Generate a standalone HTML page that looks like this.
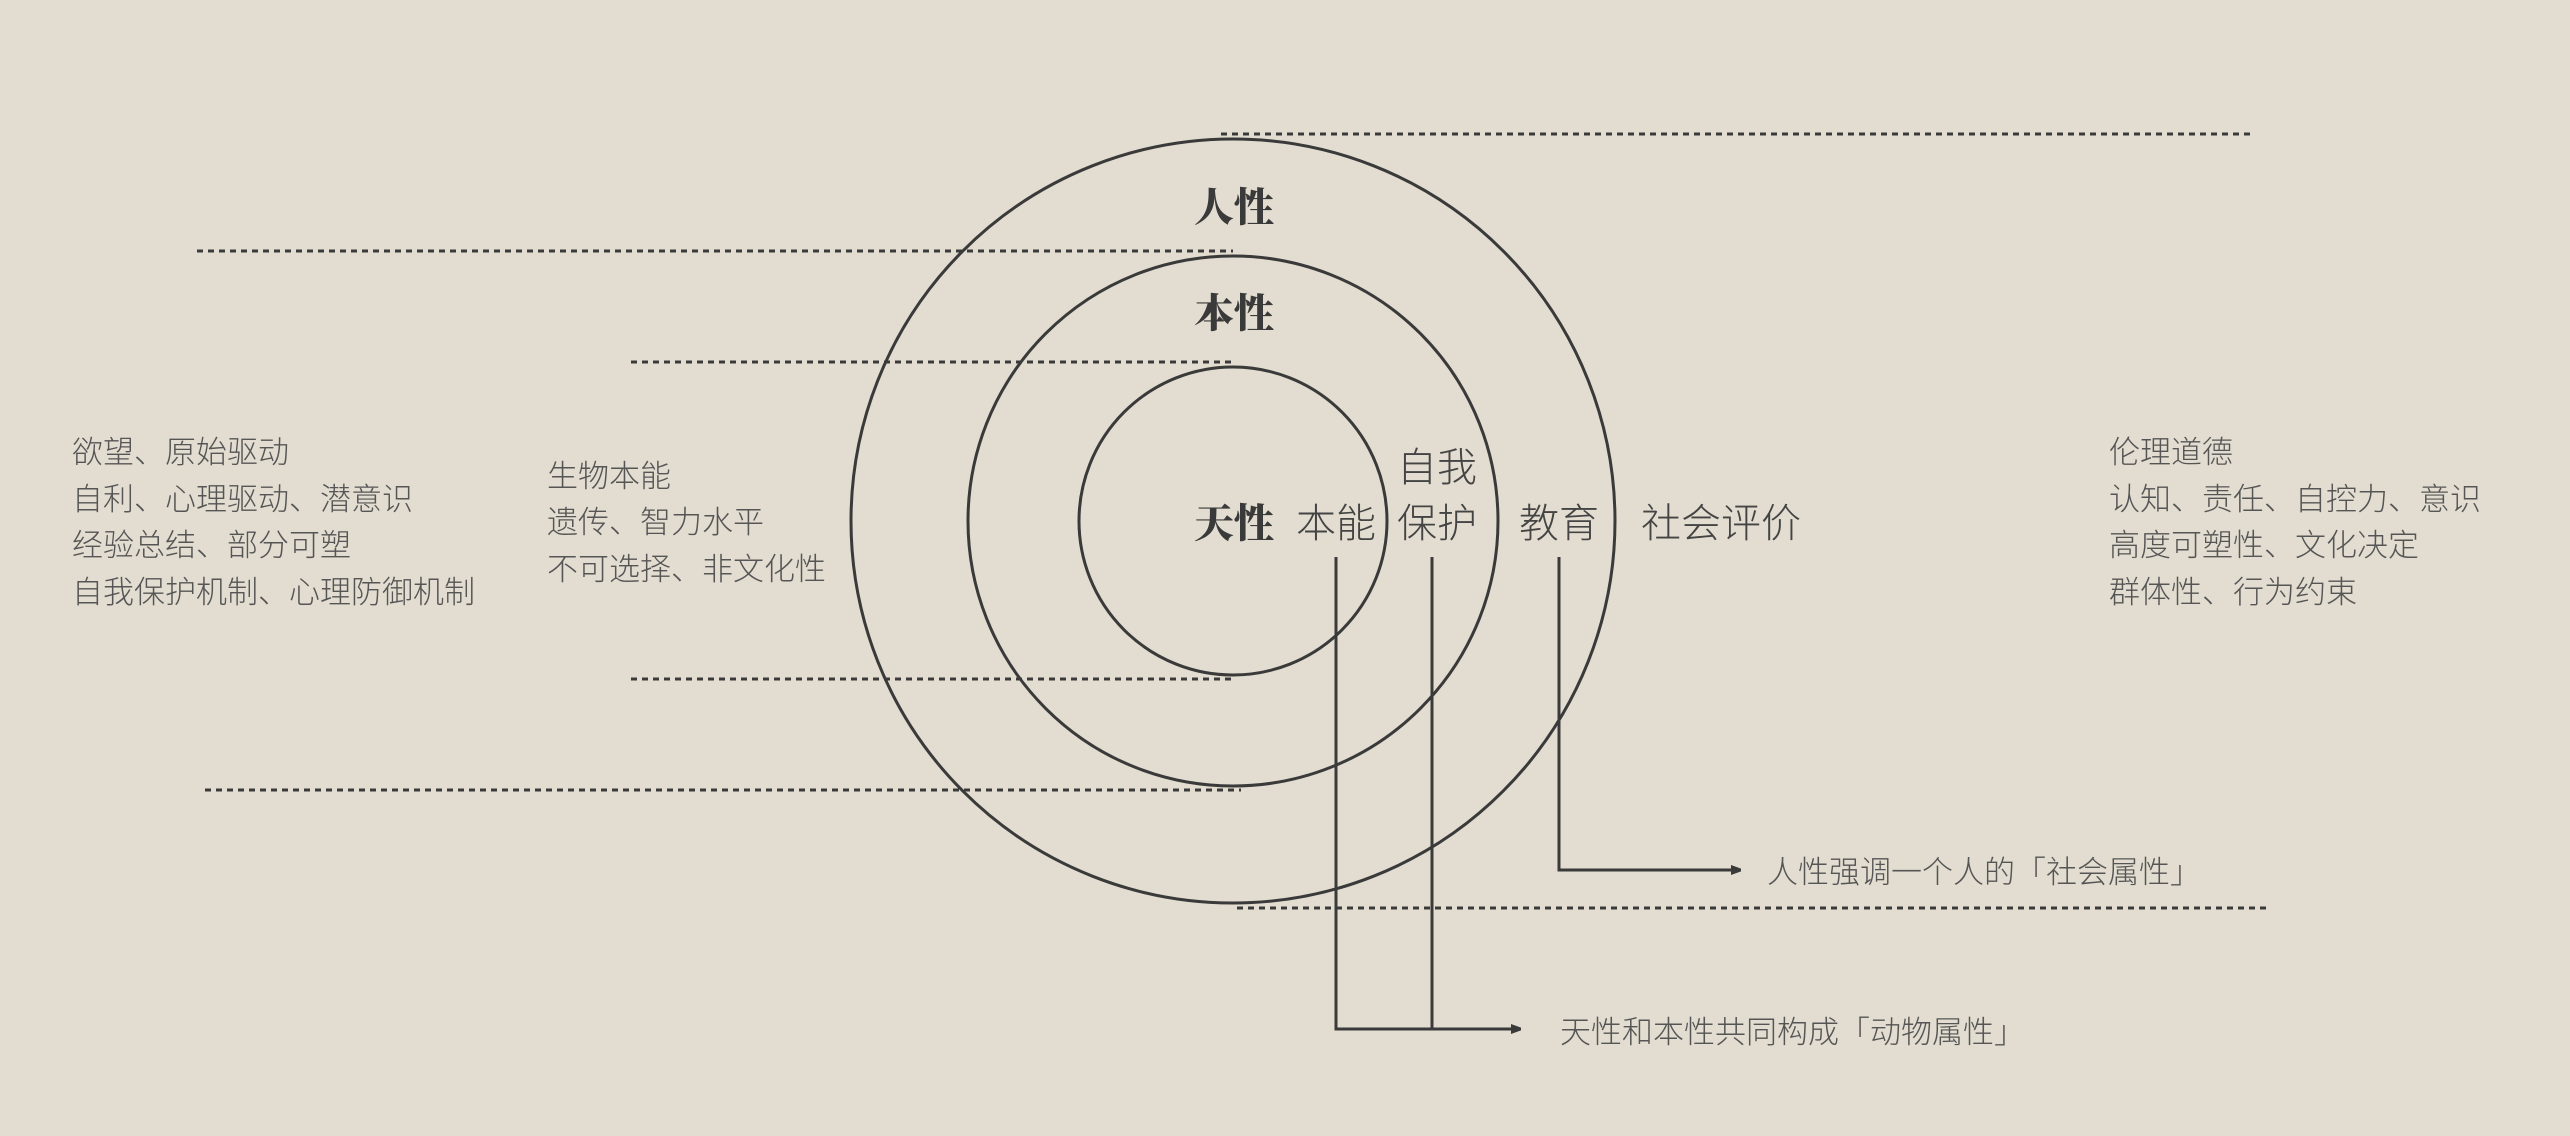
<!DOCTYPE html>
<html><head><meta charset="utf-8"><style>
html,body{margin:0;padding:0;background:#e2ddd0;}
svg{display:block}
.t{font-family:"Liberation Sans","Noto Sans CJK SC",sans-serif;fill:#555;font-size:31px;font-weight:300}
.b{font-family:"Liberation Serif","Noto Serif CJK SC",serif;fill:#3a3a3a;font-size:40px;font-weight:900}
.m{font-family:"Liberation Sans","Noto Sans CJK SC",sans-serif;fill:#444;font-size:40px;font-weight:300}
</style></head><body>
<svg width="2570" height="1136" viewBox="0 0 2570 1136" xmlns="http://www.w3.org/2000/svg">
<rect width="2570" height="1136" fill="#e2ddd0"/>
<defs><marker id="a" markerWidth="10" markerHeight="10" refX="9" refY="5" orient="auto" markerUnits="userSpaceOnUse"><path d="M0,0 L14,5 L0,10Z" fill="#3a3a3a"/></marker></defs>
<g stroke="#3a3a3a" stroke-width="3" fill="none">
<circle cx="1233" cy="521" r="382"/>
<circle cx="1233" cy="521" r="265"/>
<circle cx="1233" cy="521" r="154"/>
</g>
<g stroke="#3a3a3a" stroke-width="3" stroke-dasharray="6 5">
<line x1="1221" y1="134" x2="2255" y2="134"/>
<line x1="197" y1="251" x2="1233" y2="251"/>
<line x1="631" y1="362" x2="1233" y2="362"/>
<line x1="631" y1="679" x2="1233" y2="679"/>
<line x1="205" y1="790" x2="1241" y2="790"/>
<line x1="1237" y1="908" x2="2270" y2="908"/>
</g>
<g stroke="#3a3a3a" stroke-width="3" fill="none">
<polyline points="1336,557 1336,1029 1520,1029" marker-end="url(#a)"/>
<line x1="1432" y1="557" x2="1432" y2="1029"/>
<polyline points="1559,557 1559,870 1740,870" marker-end="url(#a)"/>
</g>
<g class="b" text-anchor="middle">
<text x="1234" y="221">人性</text>
<text x="1234" y="327">本性</text>
<text x="1234" y="537">天性</text>
</g>
<g class="m" text-anchor="middle">
<text x="1336" y="537">本能</text>
<text x="1437" y="481">自我</text>
<text x="1437" y="537">保护</text>
<text x="1559" y="537">教育</text>
<text x="1721" y="537">社会评价</text>
</g>
<g class="t">
<text x="72" y="463">欲望、原始驱动</text>
<text x="72" y="510">自利、心理驱动、潜意识</text>
<text x="72" y="556">经验总结、部分可塑</text>
<text x="72" y="603">自我保护机制、心理防御机制</text>
<text x="547" y="487">生物本能</text>
<text x="547" y="533">遗传、智力水平</text>
<text x="547" y="580">不可选择、非文化性</text>
<text x="2109" y="463">伦理道德</text>
<text x="2109" y="510">认知、责任、自控力、意识</text>
<text x="2109" y="556">高度可塑性、文化决定</text>
<text x="2109" y="603">群体性、行为约束</text>
<text x="1767" y="883">人性强调一个人的「社会属性」</text>
<text x="1560" y="1043">天性和本性共同构成「动物属性」</text>
</g>
</svg>
</body></html>
